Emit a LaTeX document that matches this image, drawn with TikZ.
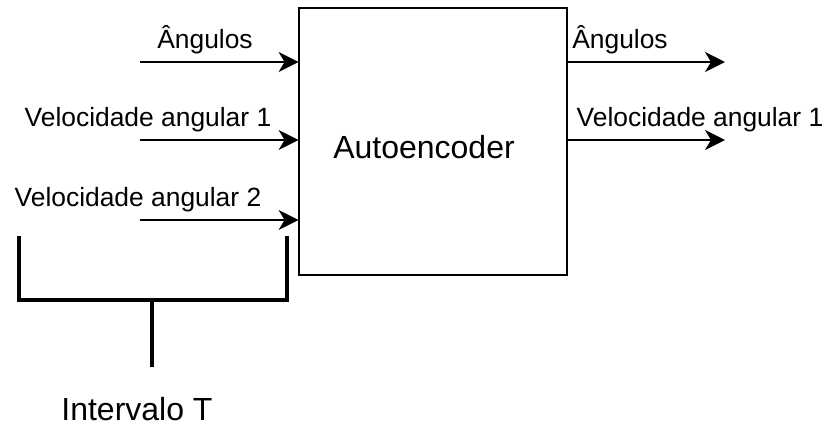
\documentclass[tikz,border=0pt]{standalone}
\usepackage{fontspec}
\setmainfont{Liberation Sans}
\usetikzlibrary{arrows.meta}

\tikzset{
  sig/.style={line width=1pt, -{Stealth[length=10pt, width=10pt, inset=3pt]}},
  lbl/.style={font=\fontsize{13.2}{15}\selectfont, inner sep=0pt},
  brace/.style={line width=2.3pt}
}

\begin{document}
\begin{tikzpicture}[x=0.5pt,y=0.5pt,yscale=-1,xscale=1]
    \useasboundingbox (0,0) rectangle (824,425);

    % Box
    \draw [line width=1pt] (299,8) rectangle (567,275);
    \node (box) [draw=none, minimum width=134pt, minimum height=133.5pt, inner sep=0pt] at (433,141.5) {};
    \node (ae) [font=\fontsize{16}{19}\selectfont, inner sep=0pt] at (424,147) {Autoencoder};

    %Straight Lines (inputs)
    \coordinate (in1) at (140,62);
    \coordinate (in2) at (140,140);
    \coordinate (in3) at (140,220);
    \draw [sig] (in1) -- (in1 -| box.west);
    \draw [sig] (in2) -- (in2 -| box.west);
    \draw [sig] (in3) -- (in3 -| box.west);

    %Straight Lines (outputs)
    \coordinate (out1) at (725,62);
    \coordinate (out2) at (725,140);
    \draw [sig] (out1 -| box.east) -- (out1);
    \draw [sig] (out2 -| box.east) -- (out2);

    % Text Node
    \node (ang) [lbl] at (205,40) {Ângulos};
    \node (vel1) [lbl] at (148,120) {Velocidade angular 1};
    \node (vel2) [lbl] at (138,200) {Velocidade angular 2};
    \node (angout) [lbl] at (620,40) {Ângulos};
    \node (velout) [lbl] at (700,120) {Velocidade angular 1};

    %Bracket
    \coordinate (bl) at (19,236);
    \coordinate (br) at (287,236);
    \coordinate (bm) at (152,300);
    \draw [brace] (bl) -- (bl |- bm) -- (br |- bm) -- (br);
    \coordinate (stem) at (152,367);
    \draw [brace] (bm) -- (stem);

    % Text Node
    \node (interval) [font=\fontsize{16}{19}\selectfont, inner sep=0pt] at (137,409) {Intervalo T};

\end{tikzpicture}
\end{document}
